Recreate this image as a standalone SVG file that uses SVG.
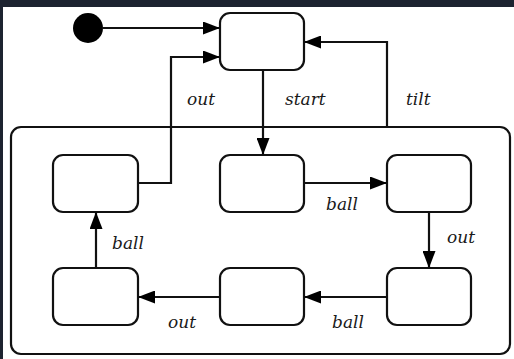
<svg xmlns="http://www.w3.org/2000/svg" width="514" height="359" viewBox="0 0 514 359">
  <defs>
    <marker id="arrow" viewBox="0 0 17 13" refX="17" refY="6.5" markerWidth="17" markerHeight="13" markerUnits="userSpaceOnUse" orient="auto">
      <path d="M0,0 L17,6.5 L0,13 Z" fill="#000"/>
    </marker>
    <style>
      .state { fill: #fff; stroke: #111; stroke-width: 2.2; }
      .edge { fill: none; stroke: #111; stroke-width: 2.2; marker-end: url(#arrow); }
      .lbl { font-family: "DejaVu Serif", "Liberation Serif", serif; font-style: italic; font-size: 17px; fill: #1a1a1a; }
    </style>
  </defs>

  <!-- frame -->
  <rect x="0" y="0" width="514" height="359" fill="#1d2330"/>
  <rect x="3" y="7" width="511" height="352" fill="#fff"/>

  <!-- composite state -->
  <g id="composite">
    <rect class="state" x="11" y="127" width="499" height="227" rx="10"/>
  </g>

  <g id="initial">
    <circle cx="88" cy="28" r="15" fill="#000"/>
  </g>

  <g id="idle">
    <rect class="state" x="220" y="13" width="84" height="57" rx="10"/>
  </g>

  <g id="s1"><rect class="state" x="53" y="155" width="85" height="57" rx="10"/></g>
  <g id="s2"><rect class="state" x="220" y="155" width="84" height="57" rx="10"/></g>
  <g id="s3"><rect class="state" x="387" y="155" width="84" height="57" rx="10"/></g>
  <g id="s4"><rect class="state" x="53" y="268" width="85" height="57" rx="10"/></g>
  <g id="s5"><rect class="state" x="220" y="268" width="84" height="57" rx="10"/></g>
  <g id="s6"><rect class="state" x="387" y="268" width="84" height="57" rx="10"/></g>

  <g id="connectors">
    <path class="edge" d="M103,28 H220"/>
    <path class="edge" d="M138,183 H171 V57 H220"/>
    <path class="edge" d="M263,70 V155"/>
    <path class="edge" d="M387,127 V42 H304"/>
    <path class="edge" d="M304,183 H387"/>
    <path class="edge" d="M429,212 V268"/>
    <path class="edge" d="M387,297 H304"/>
    <path class="edge" d="M220,297 H138"/>
    <path class="edge" d="M96,268 V212"/>
  </g>

  <g id="labels">
    <text class="lbl" x="187" y="105">out</text>
    <text class="lbl" x="285" y="105">start</text>
    <text class="lbl" x="406" y="105">tilt</text>
    <text class="lbl" x="326" y="210">ball</text>
    <text class="lbl" x="447" y="243">out</text>
    <text class="lbl" x="112" y="249">ball</text>
    <text class="lbl" x="332" y="328">ball</text>
    <text class="lbl" x="168" y="328">out</text>
  </g>
</svg>
